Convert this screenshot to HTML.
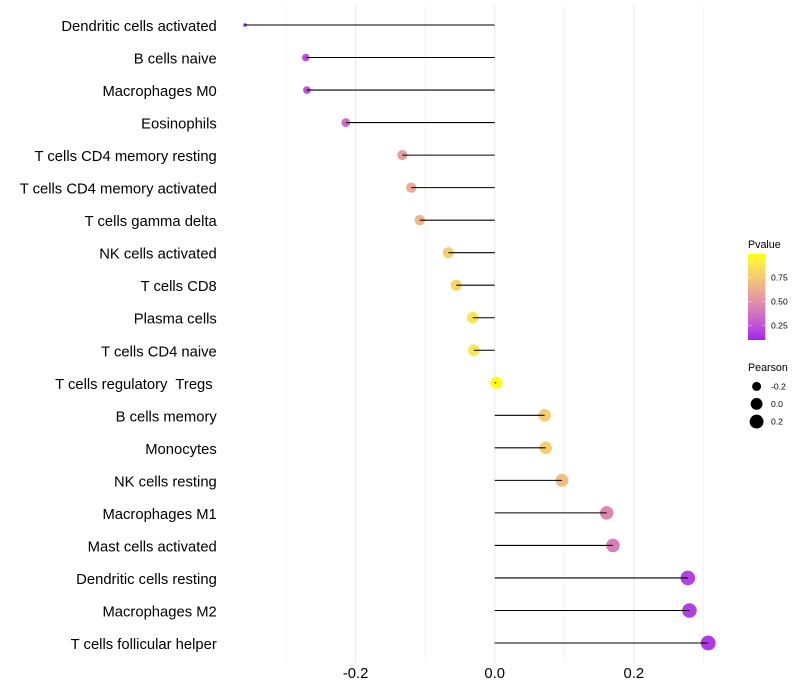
<!DOCTYPE html>
<html>
<head>
<meta charset="utf-8">
<title>Immune cell correlation lollipop chart</title>
<style>
html,body{margin:0;padding:0;background:#fff;}
svg{display:block;font-family:"Liberation Sans",Arial,sans-serif;}
</style>
</head>
<body>
<svg id="chart" xmlns="http://www.w3.org/2000/svg" width="800" height="700" viewBox="0 0 800 700"></svg>
<script>
const categories = ["Dendritic cells activated","B cells naive","Macrophages M0","Eosinophils","T cells CD4 memory resting","T cells CD4 memory activated","T cells gamma delta","NK cells activated","T cells CD8","Plasma cells","T cells CD4 naive","T cells regulatory  Tregs ","B cells memory","Monocytes","NK cells resting","Macrophages M1","Mast cells activated","Dendritic cells resting","Macrophages M2","T cells follicular helper"];
const pearsonValues = [-0.359,-0.2716,-0.270,-0.214,-0.1328,-0.120,-0.1078,-0.0667,-0.0552,-0.0316,-0.030,0.0023,0.0718,0.0733,0.0967,0.161,0.170,0.2777,0.280,0.307];
const pValues = [0.097,0.24,0.24,0.35,0.56,0.61,0.67,0.77,0.81,0.88,0.88,0.993,0.77,0.77,0.69,0.46,0.42,0.19,0.18,0.16];
const majorTicks = [-0.2,0,0.2];
const majorTickLabels = ["-0.2","0.0","0.2"];
const minorTicks = [-0.3,-0.1,0.1,0.3];
const pvalueLegendTicks = [0.25,0.5,0.75];
const pvalueLegendLabels = ["0.25","0.50","0.75"];
const pearsonLegendValues = [-0.2,0,0.2];
const pearsonLegendLabels = ["-0.2","0.0","0.2"];

const NS = "http://www.w3.org/2000/svg";
const svg = document.getElementById("chart");
function make(tag, attrs, parent, text) {
  const el = document.createElementNS(NS, tag);
  for (const k in attrs) el.setAttribute(k, attrs[k]);
  if (text !== undefined) {
    el.style.whiteSpace = "pre";
    el.textContent = text;
  }
  (parent || svg).appendChild(el);
  return el;
}
const xScale = v => 494.7 + v * 695.5;
const yScale = i => 25 + i * (618 / (categories.length - 1));

const minP = Math.min(...pValues), maxP = Math.max(...pValues);
const minR = Math.min(...pearsonValues), maxR = Math.max(...pearsonValues);
function radius(v) {
  const t = Math.max(0, (v - minR) / (maxR - minR));
  return 1.8 + 5.6 * Math.sqrt(t);
}
function labToRgb(L, a, b) {
  const fy = (L + 16) / 116, fx = fy + a / 500, fz = fy - b / 200;
  const inv = f => f > 6 / 29 ? f * f * f : 3 * (6 / 29) * (6 / 29) * (f - 4 / 29);
  const X = 0.95047 * inv(fx), Y = inv(fy), Z = 1.08883 * inv(fz);
  const lin = [
    3.2406 * X - 1.5372 * Y - 0.4986 * Z,
    -0.9689 * X + 1.8758 * Y + 0.0415 * Z,
    0.0557 * X - 0.2040 * Y + 1.0570 * Z
  ];
  const ch = lin.map(c => {
    c = Math.min(1, Math.max(0, c));
    const g = c <= 0.0031308 ? 12.92 * c : 1.055 * Math.pow(c, 1 / 2.4) - 0.055;
    return Math.round(g * 255);
  });
  return "rgb(" + ch.join(",") + ")";
}
function gradientColor(t) {
  const lo = [45.36, 78.75, -77.40], hi = [97.14, -21.56, 94.48];
  return labToRgb(lo[0] + (hi[0] - lo[0]) * t, lo[1] + (hi[1] - lo[1]) * t, lo[2] + (hi[2] - lo[2]) * t);
}
const pColor = p => gradientColor((p - minP) / (maxP - minP));

// gridlines
minorTicks.forEach(v => {
  const g = make("line", {x1: xScale(v), x2: xScale(v), y1: 5, y2: 663, stroke: "#ebebeb", "stroke-width": 0.55});
  
  
});
majorTicks.forEach(v => {
  const g = make("line", {x1: xScale(v), x2: xScale(v), y1: 5, y2: 663, stroke: "#ebebeb", "stroke-width": 1.07});
  
  
});

// points
categories.forEach((c, i) => {
  const pt = make("circle", {cx: xScale(pearsonValues[i]), cy: yScale(i), r: radius(pearsonValues[i]), fill: pColor(pValues[i])});
  
  
});
// segments
categories.forEach((c, i) => {
  const ln = make("line", {x1: xScale(0), x2: xScale(pearsonValues[i]), y1: yScale(i), y2: yScale(i), stroke: "#000", "stroke-width": 1.07});
  
  
});
// category labels
categories.forEach((c, i) => {
  const t = make("text", {x: 216.8, y: yScale(i) + 6, "text-anchor": "end", "font-size": 14.8, fill: "#000"}, svg, c);
  
  
});
// x tick labels
majorTicks.forEach((v, i) => {
  const t = make("text", {x: xScale(v), y: 678, "text-anchor": "middle", "font-size": 14.8, fill: "#000"}, svg, majorTickLabels[i]);
  
  
});

// Pvalue legend
const pvalueTitle = make("text", {x: 748, y: 248, "font-size": 10.7, fill: "#000"}, svg, "Pvalue");


const defs = make("defs", {});
const grad = make("linearGradient", {id: "pgrad", x1: 0, y1: 1, x2: 0, y2: 0}, defs);
for (let k = 0; k <= 20; k++) {
  make("stop", {offset: k / 20, "stop-color": gradientColor(k / 20)}, grad);
}
const legendY = p => 325.3 - (p - 0.25) * 96;
const barTop = legendY(maxP), barBottom = legendY(minP);
const bar = make("rect", {x: 748, y: barTop, width: 17.3, height: barBottom - barTop, fill: "url(#pgrad)"});


pvalueLegendTicks.forEach((p, i) => {
  const y = legendY(p);
  const a = make("line", {x1: 748, x2: 751.5, y1: y, y2: y, stroke: "#fff", "stroke-opacity": 0.7, "stroke-width": 0.6});
  
  
  const b = make("line", {x1: 761.8, x2: 765.3, y1: y, y2: y, stroke: "#fff", "stroke-opacity": 0.7, "stroke-width": 0.6});
  
  
  const t = make("text", {x: 771, y: y + 3, "font-size": 8.6, fill: "#000"}, svg, pvalueLegendLabels[i]);
  
  
});

// Pearson legend
const pearsonTitle = make("text", {x: 748, y: 371, "font-size": 10.7, fill: "#000"}, svg, "Pearson");


const pearsonLegendY = [386.4, 403.9, 421.6];
pearsonLegendValues.forEach((v, i) => {
  const c = make("circle", {cx: 756.6, cy: pearsonLegendY[i], r: radius(v), fill: "#000"});
  
  
  const t = make("text", {x: 771, y: pearsonLegendY[i] + 3, "font-size": 8.6, fill: "#000"}, svg, pearsonLegendLabels[i]);
  
  
});
</script>
</body>
</html>
